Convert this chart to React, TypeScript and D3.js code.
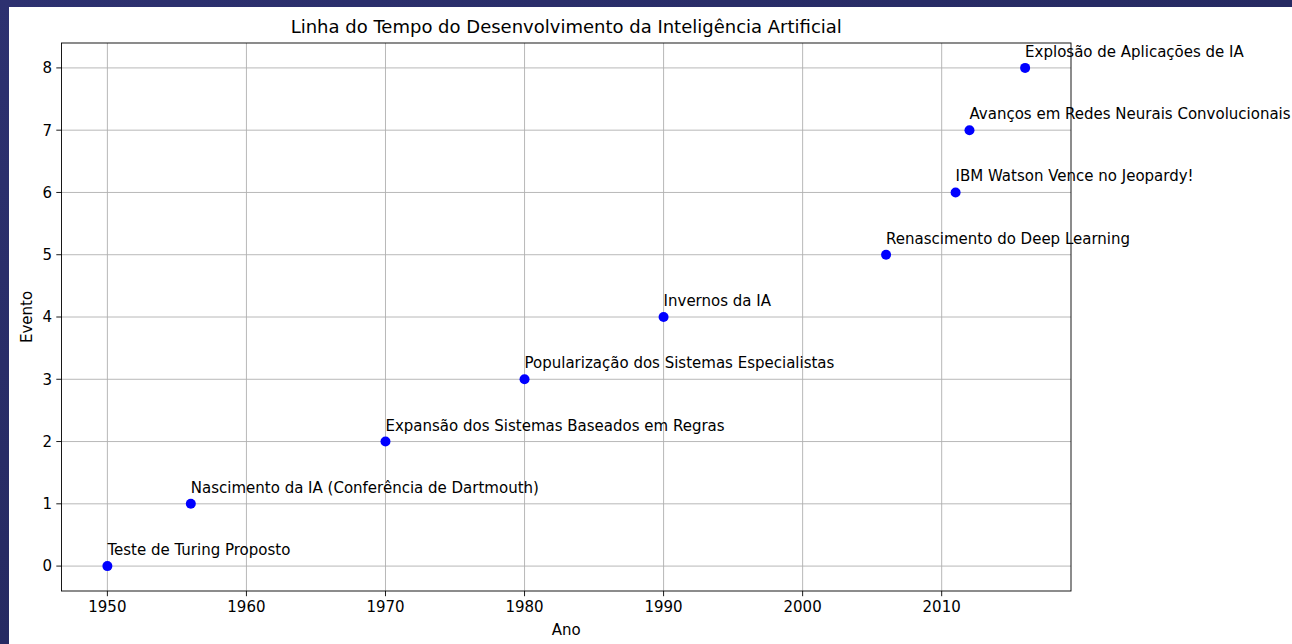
import React from "react";
import * as d3 from "d3";

const years = [1950, 1956, 1970, 1980, 1990, 2006, 2011, 2012, 2016];
const eventIndex = [0, 1, 2, 3, 4, 5, 6, 7, 8];
const eventLabels = [
  "Teste de Turing Proposto",
  "Nascimento da IA (Conferência de Dartmouth)",
  "Expansão dos Sistemas Baseados em Regras",
  "Popularização dos Sistemas Especialistas",
  "Invernos da IA",
  "Renascimento do Deep Learning",
  "IBM Watson Vence no Jeopardy!",
  "Avanços em Redes Neurais Convolucionais",
  "Explosão de Aplicações de IA",
];
const xTicks = [1950, 1960, 1970, 1980, 1990, 2000, 2010];
const yTicks = [0, 1, 2, 3, 4, 5, 6, 7, 8];

const W = 1292;
const H = 644;
const left = 61.5;
const right = 1071;
const top = 43;
const bottom = 591;

export default function App() {
  const x = d3.scaleLinear().domain([1946.7, 2019.3]).range([left, right]);
  const y = d3.scaleLinear().domain([-0.4, 8.4]).range([bottom, top]);
  const font = "'DejaVu Sans', sans-serif";
  const fs = 15;
  return (
    <svg
      width={W}
      height={H}
      style={{ position: "absolute", left: 0, top: 0, display: "block" }}
      fontFamily={font}
    >
      <defs>
        <linearGradient id="bg" x1="0" y1="0" x2="1" y2="1">
          <stop offset="0" stopColor="#2d3170" />
          <stop offset="0.5" stopColor="#262a62" />
          <stop offset="1" stopColor="#2a2e6a" />
        </linearGradient>
      </defs>
      <rect x={0} y={0} width={W} height={H} fill="url(#bg)" />
      <rect x={9} y={7} width={W - 9} height={H - 7} fill="#ffffff" />
      {/* grid */}
      {xTicks.map((t) => (
        <line key={"gx" + t} x1={x(t)} x2={x(t)} y1={top} y2={bottom} stroke="#b0b0b0" strokeWidth={0.9} />
      ))}
      {yTicks.map((t) => (
        <line key={"gy" + t} x1={left} x2={right} y1={y(t)} y2={y(t)} stroke="#b0b0b0" strokeWidth={0.9} />
      ))}
      {/* frame */}
      <rect x={left} y={top} width={right - left} height={bottom - top} fill="none" stroke="#000" strokeWidth={0.9} />
      {/* x ticks */}
      {xTicks.map((t) => (
        <g key={"xt" + t}>
          <line x1={x(t)} x2={x(t)} y1={bottom} y2={bottom + 5.2} stroke="#000" strokeWidth={0.9} />
          <text x={x(t)} y={bottom + 21} textAnchor="middle" fontSize={fs} fill="#000">
            {t}
          </text>
        </g>
      ))}
      {/* y ticks */}
      {yTicks.map((t) => (
        <g key={"yt" + t}>
          <line x1={left - 5.2} x2={left} y1={y(t)} y2={y(t)} stroke="#000" strokeWidth={0.9} />
          <text x={left - 9.5} y={y(t) + 5.4} textAnchor="end" fontSize={fs} fill="#000">
            {t}
          </text>
        </g>
      ))}
      {/* axis labels */}
      <text x={(left + right) / 2} y={635} textAnchor="middle" fontSize={fs} fill="#000">
        Ano
      </text>
      <text
        transform={`translate(32, ${(top + bottom) / 2}) rotate(-90)`}
        textAnchor="middle"
        fontSize={fs}
        fill="#000"
      >
        Evento
      </text>
      {/* title */}
      <text x={(left + right) / 2} y={33} textAnchor="middle" fontSize={18} fill="#000">
        Linha do Tempo do Desenvolvimento da Inteligência Artificial
      </text>
      {/* points */}
      {years.map((yr, i) => (
        <circle key={"p" + i} cx={x(yr)} cy={y(eventIndex[i])} r={5} fill="#0000ff" />
      ))}
      {/* labels */}
      {years.map((yr, i) => (
        <text key={"l" + i} x={x(yr)} y={y(eventIndex[i]) - 11} fontSize={fs} fill="#000">
          {eventLabels[i]}
        </text>
      ))}
    </svg>
  );
}
